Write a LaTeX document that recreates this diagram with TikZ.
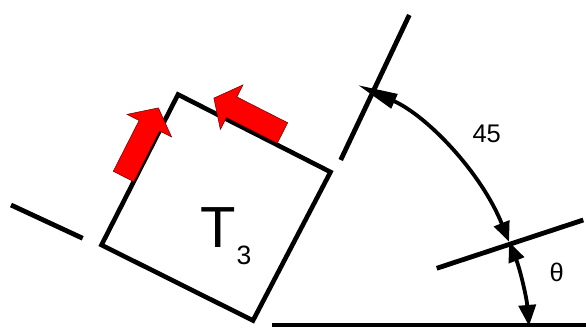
\documentclass[tikz,border=0pt]{standalone}
\usepackage{fontspec}
\setmainfont{Liberation Sans}
\usetikzlibrary{arrows.meta}
\begin{document}
\begin{tikzpicture}[x=1pt,y=1pt,
  thickline/.style={line width=4.8pt, line cap=butt},
  sqline/.style={line width=4.6pt},
  dimarc/.style={line width=3.8pt},
  redarrow/.style={fill=red, draw=black!60!red, line width=0.5pt, line join=miter},
  lbl/.style={inner sep=0pt, font=\fontsize{25.5}{30}\selectfont}]
\useasboundingbox (0,0) rectangle (586,327);
% square corners
\coordinate (sqT) at (178,232.5);
\coordinate (sqR) at (330.5,155);
\coordinate (sqB) at (253,6.5);
\coordinate (sqL) at (101.5,82);
% reference lines
\coordinate (lA) at (11,122);
\coordinate (lB) at (82.7,88.7);
\coordinate (uA) at (340.7,167);
\coordinate (uB) at (409.3,312);
\coordinate (tA) at (436.7,58.7);
\coordinate (tB) at (583.3,107);
\coordinate (bA) at (272,2);
\coordinate (bB) at (586,2);
\coordinate (C) at (240,-23);
% lines
\draw[thickline] (lA) -- (lB);
\draw[thickline] (uA) -- (uB);
\draw[thickline] (tA) -- (tB);
\draw[thickline] (bA) -- (bB);
\draw[sqline] (sqL) -- (sqT) -- (sqR) -- (sqB) -- cycle;
% dimension arcs
\draw[dimarc, {Triangle[length=40pt,width=15pt]}-{Triangle[length=20pt,width=16pt]}]
  ([shift={(66:290)}]C) arc[start angle=66, end angle=21.9, radius=290];
\draw[dimarc, {Triangle[length=20pt,width=16pt]}-{Triangle[length=21pt,width=17pt]}]
  ([shift={(21.9:290)}]C) arc[start angle=21.9, end angle=4.75, radius=290];
% red arrows
\begin{scope}[shift={(123.5,150.5)}, rotate=63.05]
  \draw[redarrow] (0,-11.5) -- (57,-11.5) -- (57,-25) -- (77,0) -- (57,25) -- (57,11.5) -- (0,11.5) -- cycle;
\end{scope}
\begin{scope}[shift={(282.5,194)}, rotate=153.05]
  \draw[redarrow] (0,-11.5) -- (57,-11.5) -- (57,-25) -- (77,0) -- (57,25) -- (57,11.5) -- (0,11.5) -- cycle;
\end{scope}
% labels
\node[inner sep=0pt, font=\fontsize{58}{64}\selectfont] (Tlbl) at (218.3,99.5) {T};
\node[inner sep=0pt, font=\fontsize{26.5}{30}\selectfont] (Tsub) at (244,71.5) {3};
\node[lbl] (fortyfive) at (486.7,193) {45};
\node[lbl] (theta) at (556.7,54.5) {θ};
\end{tikzpicture}
\end{document}
